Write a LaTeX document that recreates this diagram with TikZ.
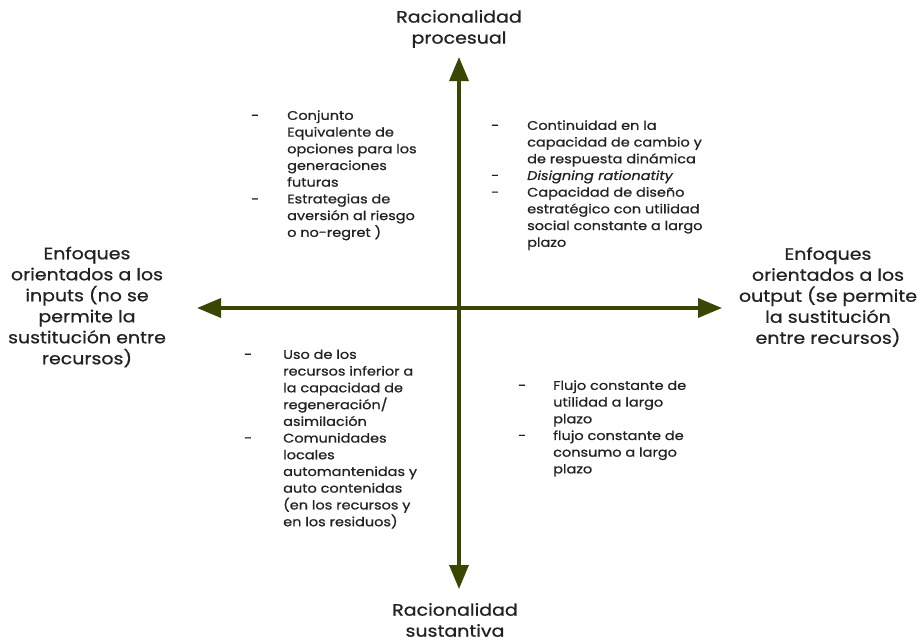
\documentclass[tikz,border=0pt]{standalone}
\usepackage{fontspec}
\setmainfont{Poppins}[FakeStretch=1.15,FakeBold=0.8]
\usetikzlibrary{arrows.meta}
\definecolor{axis}{RGB}{56,72,4}
\definecolor{ink}{RGB}{34,34,34}
\newcommand{\bl}{\fontsize{12.6}{16.7}\selectfont}
\newcommand{\lb}{\fontsize{16.5}{21}\selectfont}
\begin{document}
\begin{tikzpicture}[x=1pt,y=-1pt,
  axisline/.style={draw=axis,line width=3.4pt,-{Triangle[length=24pt,width=19pt]}},
  bigtxt/.style={inner sep=0pt,align=center,text=ink,font=\lb},
  listtxt/.style={inner sep=0pt,anchor=north west,text=ink,font=\bl}]
\useasboundingbox (0,0) rectangle (917,642);
\coordinate (c) at (459,308);
\coordinate (top) at (459,57);
\coordinate (bot) at (459,589);
\coordinate (lft) at (197,308);
\coordinate (rgt) at (722,308);
\draw[axisline] (c) -- (top);
\draw[axisline] (c) -- (bot);
\draw[axisline] (c) -- (lft);
\draw[axisline] (c) -- (rgt);
\node[bigtxt] (ltop) at (459,29) {Racionalidad\\procesual};
\node[bigtxt] (lbot) at (455,620) {Racionalidad\\sustantiva};
\node[bigtxt] (llft) at (87,307) {Enfoques\\orientados a los\\inputs (no se\\permite la\\sustitución entre\\recursos)};
\node[bigtxt] (lrgt) at (828,297) {Enfoques\\orientados a los\\output (se permite\\la sustitución\\entre recursos)};
\node[listtxt] (qtl) at (251,108) {\begin{tabular}{@{}p{36pt}@{}l@{}}
-&Conjunto\\
&Equivalente de\\
&opciones para los\\
&generaciones\\
&futuras\\
-&Estrategias de\\
&aversión al riesgo\\
&o no-regret )
\end{tabular}};
\node[listtxt] (qtr) at (491,118) {\begin{tabular}{@{}p{36pt}@{}l@{}}
-&Continuidad en la\\
&capacidad de cambio y\\
&de respuesta dinámica\\
-&\textit{Disigning rationatity}\\
-&Capacidad de diseño\\
&estratégico con utilidad\\
&social constante a largo\\
&plazo
\end{tabular}};
\node[listtxt] (qbl) at (244,347) {\begin{tabular}{@{}p{39pt}@{}l@{}}
-&Uso de los\\
&recursos inferior a\\
&la capacidad de\\
&regeneración/\\
&asimilación\\
-&Comunidades\\
&locales\\
&automantenidas y\\
&auto contenidas\\
&(en los recursos y\\
&en los residuos)
\end{tabular}};
\node[listtxt] (qbr) at (518,378) {\begin{tabular}{@{}p{35pt}@{}l@{}}
-&Flujo constante de\\
&utilidad a largo\\
&plazo\\
-&flujo constante de\\
&consumo a largo\\
&plazo
\end{tabular}};
\end{tikzpicture}
\end{document}
